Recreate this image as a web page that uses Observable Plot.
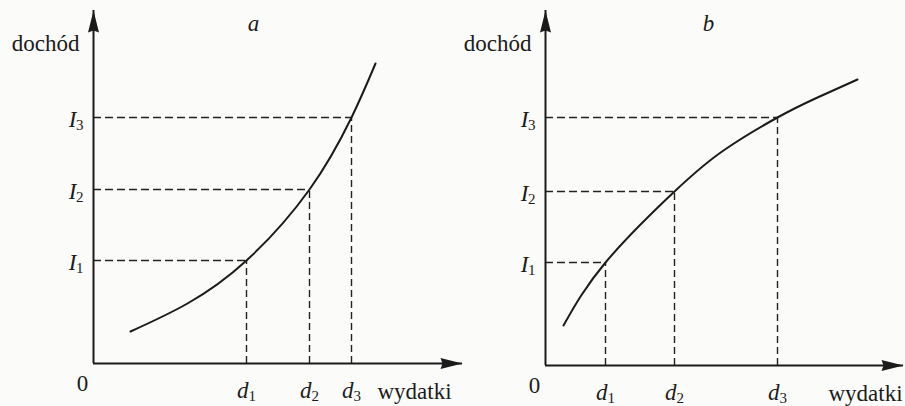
<!DOCTYPE html>
<html>
<head>
<meta charset="utf-8">
<script src="https://cdn.jsdelivr.net/npm/d3@7"></script>
<script src="https://cdn.jsdelivr.net/npm/@observablehq/plot@0.6"></script>
<style>
  body { margin: 0; background: #fbfbfa; }
  #fig { position: relative; width: 905px; height: 406px; overflow: hidden; }
  #fig svg { position: absolute; top: 0; }
</style>
</head>
<body>
<div id="fig"></div>
<script>
// Panel a: income grows ever faster with spending (convex curve)
const aSpend  = [3.7, 9.4, 15.3, 21.6, 25.8, 28.2];
const aIncome = [3.2, 6.0, 10.3, 17.4, 24.6, 30.0];
const aD = [15.3, 21.6, 25.8];   // d1, d2, d3
const aI = [10.3, 17.4, 24.6];   // I1, I2, I3

// Panel b: income grows ever slower with spending (concave curve)
const bSpend  = [1.8, 6.0, 12.9, 17.8, 23.2, 27.2, 31.2];
const bIncome = [4.0, 10.3, 17.4, 21.5, 24.8, 26.8, 28.6];
const bD = [6.0, 12.9, 23.2];
const bI = [10.3, 17.4, 24.8];

const indices = ["1", "2", "3"];
const panelNames = ["a", "b"];
const yTitle = "dochód";
const xTitle = "wydatki";

const ink = "#1b1b1b";
const serif = "Liberation Serif";

// Filled arrowhead pointing up, tip at the origin of the symbol
const arrowHead = {
  draw(ctx) {
    ctx.moveTo(0, 0);
    ctx.lineTo(5.5, 22);
    ctx.lineTo(0, 20);
    ctx.lineTo(-5.5, 22);
    ctx.closePath();
  }
};

function panel({name, spend, income, D, I, xMax, yMax, xRange, yRange, width, titleX, xTitleX}) {
  const curve = spend.map((x, i) => ({x, y: income[i]}));
  const guides = D.map((d, i) => ({d, v: I[i], k: indices[i]}));
  const txt = {lineAnchor: "bottom", fontFamily: serif, fontSize: 23, fill: ink};
  const sub = {lineAnchor: "bottom", fontFamily: serif, fontSize: 15, fill: ink};
  const svg = Plot.plot({
    width, height: 406,
    style: {background: "transparent", overflow: "visible", color: ink},
    x: {domain: [0, xMax], range: xRange, axis: null},
    y: {domain: [0, yMax], range: yRange, axis: null},
    marks: [
      // dashed guides from the curve to both axes
      Plot.ruleX(guides, {x: "d", y1: 0, y2: "v", stroke: "#222", strokeWidth: 1.4, strokeDasharray: "7,4"}),
      Plot.ruleY(guides, {y: "v", x1: 0, x2: "d", stroke: "#222", strokeWidth: 1.4, strokeDasharray: "8,4"}),
      // axes with arrowheads
      Plot.ruleX([0], {y1: 0, y2: yMax, stroke: ink, strokeWidth: 2}),
      Plot.ruleY([0], {x1: 0, x2: xMax, stroke: ink, strokeWidth: 2}),
      Plot.dot([{x: 0, y: yMax}], {x: "x", y: "y", symbol: arrowHead, fill: ink, stroke: "none"}),
      Plot.dot([{x: xMax, y: 0}], {x: "x", y: "y", symbol: arrowHead, fill: ink, stroke: "none", rotate: 90}),
      // the income–spending curve
      Plot.line(curve, {x: "x", y: "y", curve: "natural", stroke: ink, strokeWidth: 2}),
      // I labels on the vertical axis
      Plot.text(guides, {...txt, x: 0, y: "v", text: () => "I", dx: -17, dy: 9, textAnchor: "end", fontStyle: "italic"}),
      Plot.text(guides, {...sub, x: 0, y: "v", text: "k", dx: -10, dy: 12, textAnchor: "end"}),
      // d labels on the horizontal axis
      Plot.text(guides, {...txt, x: "d", y: 0, text: () => "d", dx: 2, dy: 34, textAnchor: "end", fontStyle: "italic"}),
      Plot.text(guides, {...sub, x: "d", y: 0, text: "k", dx: 2, dy: 37, textAnchor: "start"}),
      // origin, axis titles and panel name
      Plot.text(["0"], {...txt, x: 0, y: 0, dx: -11, dy: 27, textAnchor: "middle"}),
      Plot.text([yTitle], {...txt, x: 0, y: yMax, dx: -14, dy: 40, textAnchor: "end"}),
      Plot.text([xTitle], {...txt, x: xTitleX, y: 0, dy: 35, textAnchor: "start"}),
      Plot.text([name], {...txt, x: titleX, y: yMax, dy: 20, textAnchor: "middle", fontStyle: "italic"})
    ]
  });
  // serif lettering on every label, set directly on each text element
  svg.setAttribute("font-family", serif);
  svg.querySelectorAll("text").forEach(el => el.setAttribute("font-family", serif));
  return svg;
}

const fig = document.getElementById("fig");

const svgA = panel({
  name: panelNames[0], spend: aSpend, income: aIncome, D: aD, I: aI,
  xMax: 36.9, yMax: 35.3, xRange: [93, 462], yRange: [363, 10], width: 470,
  titleX: 16.0, xTitleX: 28.4
});
svgA.style.left = "0px";
fig.appendChild(svgA);

const svgB = panel({
  name: panelNames[1], spend: bSpend, income: bIncome, D: bD, I: bI,
  xMax: 35.8, yMax: 35.5, xRange: [90, 448], yRange: [365, 10], width: 450,
  titleX: 16.3, xTitleX: 28.3
});
svgB.style.left = "455px";
fig.appendChild(svgB);
</script>
</body>
</html>
